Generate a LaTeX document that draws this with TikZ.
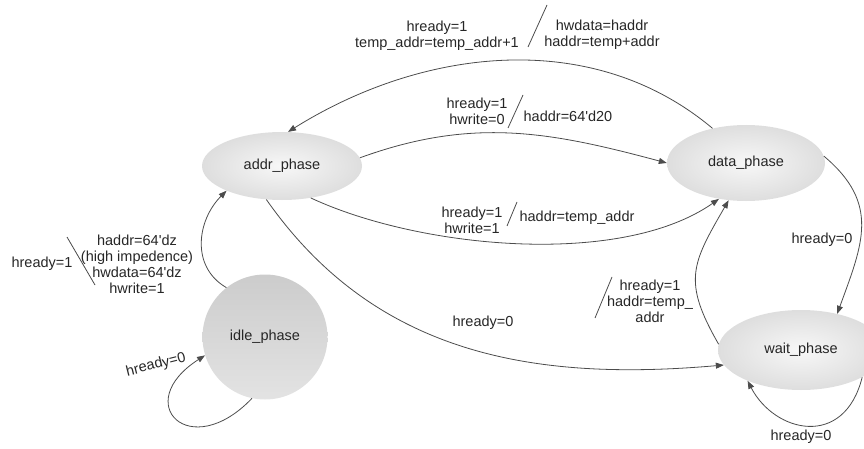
\documentclass[tikz,border=0pt]{standalone}
\usepackage{fontspec}
\setmainfont{Liberation Sans}
\usetikzlibrary{shapes.geometric,arrows.meta}
\begin{document}
\begin{tikzpicture}[x=1pt,y=1pt,
    every node/.style={font=\fontsize{14.5}{16}\selectfont, text=black!85},
    state/.style={ellipse, inner sep=0pt, shade, inner color=gray!6, outer color=gray!26},
    lbl/.style={align=center, inner sep=0pt},
    edge/.style={draw=black!70, line width=0.8pt, -{Triangle[length=8pt,width=6pt]}},
    slash/.style={draw=black!70, line width=0.8pt}]
    \useasboundingbox (0,0) rectangle (864,448);
    \node[state, minimum width=160pt, minimum height=68pt] (addr) at (282,282) {addr\_phase};
    \node[state, minimum width=158pt, minimum height=76pt] (data) at (746,285) {data\_phase};
    \node[state, minimum width=166pt, minimum height=80pt] (wait) at (801,98) {wait\_phase};
    \node[circle, inner sep=0pt, minimum size=125pt, shade, top color=gray!40, bottom color=gray!22] (idle) at (265,111) {idle\_phase};
    \path[edge] (data.134) to[out=140, in=32, looseness=0.95] (addr.80);
    \path[edge] (addr.6) to[out=20, in=165] (data.180);
    \path[edge] (addr.-48) to[out=-25, in=215, looseness=0.75] (data.233);
    \path[edge] (data.5) to[out=-40, in=70, looseness=1.2] (wait.45);
    \path[edge] (wait.176) to[out=120, in=240, looseness=1.3] (data.245);
    \path[edge] (addr.245) to[out=-55, in=185] (wait.191);
    \path[edge] (idle.128) to[out=150, in=225, looseness=1.1] (addr.204);
    \path[edge] (idle.258) .. controls +(-62,-65) and +(-75,-48) .. (idle.197);
    \path[edge] (wait.-24) .. controls +(-18,-72) and +(27,-52) .. (wait.210);
    \node[lbl] (lTopL) at (437,412) {hready=1\\temp\_addr=temp\_addr+1};
    \node[lbl] (lTopR) at (602,413) {hwdata=haddr\\haddr=temp+addr};
    \draw[slash] (547,443) -- (528,401);
    \node[lbl] (lMidL) at (477,337) {hready=1\\hwrite=0};
    \node[lbl] (lMidR) at (568,332) {haddr=64\textquotesingle d20};
    \draw[slash] (523,353) -- (508,320);
    \node[lbl] (lLowL) at (472,228) {hready=1\\hwrite=1};
    \node[lbl] (lLowR) at (577,230) {haddr=temp\_addr};
    \draw[slash] (517,246) -- (507,222);
    \node[lbl] (lRight) at (822,208) {hready=0};
    \node[lbl] (lBack) at (650,147) {hready=1\\haddr=temp\_\\addr};
    \draw[slash] (612,171) -- (595,130);
    \node[lbl] (lLong) at (483,125) {hready=0};
    \node[lbl] (lIdleL) at (42,184) {hready=1};
    \node[lbl] (lIdleR) at (137,184) {haddr=64\textquotesingle dz\\(high impedence)\\hwdata=64\textquotesingle dz\\hwrite=1};
    \draw[slash] (67,211) -- (95,163);
    \node[lbl, rotate=14] (lIdleLoop) at (156,83) {hready=0};
    \node[lbl] (lWaitLoop) at (801,11) {hready=0};
\end{tikzpicture}
\end{document}
